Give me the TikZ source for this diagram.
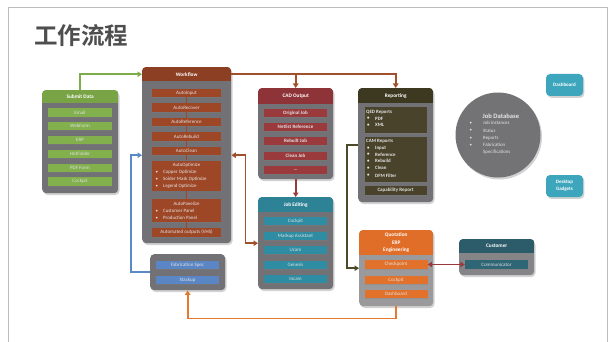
\documentclass[tikz,border=0pt]{standalone}
\usepackage{fontspec}
\setmainfont{Carlito}
\newfontfamily\cjk{Noto Sans CJK SC}[BoldFont={Noto Sans CJK SC Bold}]
\usetikzlibrary{shadows,arrows.meta}
\definecolor{frameC}{HTML}{BDBDBD}
\definecolor{titleC}{HTML}{4E4E4E}
\definecolor{bodyC}{HTML}{727276}
\definecolor{bodyQ}{HTML}{9A9A9C}
\definecolor{bodyK}{HTML}{858588}
\definecolor{greenH}{HTML}{78A445}
\definecolor{greenI}{HTML}{82B04D}
\definecolor{brownH}{HTML}{8C3F22}
\definecolor{brownI}{HTML}{9E4727}
\definecolor{redH}{HTML}{8E3337}
\definecolor{redI}{HTML}{9A3A3D}
\definecolor{oliveH}{HTML}{3C3920}
\definecolor{oliveI}{HTML}{48432A}
\definecolor{tealH}{HTML}{2D8296}
\definecolor{tealI}{HTML}{2E8DA3}
\definecolor{orangeH}{HTML}{E06E28}
\definecolor{orangeI}{HTML}{E2722B}
\definecolor{custH}{HTML}{2C5B69}
\definecolor{custI}{HTML}{2F6676}
\definecolor{blueI}{HTML}{5A86C5}
\definecolor{dbC}{HTML}{737376}
\definecolor{gadC}{HTML}{3EA6BC}
\definecolor{aGreen}{HTML}{7CAD4A}
\definecolor{aBrown}{HTML}{A1502B}
\definecolor{aRed}{HTML}{9B3A3C}
\definecolor{aOlive}{HTML}{4D4A2A}
\definecolor{aBlue}{HTML}{5B89C8}
\definecolor{aOrange}{HTML}{E5792F}
\newcommand\cbox[9]{%
  \node[box=#8, minimum width=#4pt, minimum height=#5pt, anchor=north west] (#1) at (#2,#3) {};
  \begin{scope}
    \clip[rounded corners=4pt] (#1.north west) rectangle (#1.south east);
    \fill[#7] (#1.north west) rectangle ([yshift=-#6pt]#1.north east);
  \end{scope}
  \node[hdr, minimum width=#4pt, minimum height=#6pt, anchor=north] (#1h) at (#1.north) {#9};
}
\begin{document}
\begin{tikzpicture}[x=1pt,y=-1pt,
  box/.style={rounded corners=4pt, fill=#1, draw=none, inner sep=0pt,
    drop shadow={opacity=0.35, shadow xshift=1.3pt, shadow yshift=-1.8pt}},
  item/.style={fill=#1, minimum width=63pt, minimum height=8.5pt, inner sep=0pt,
    text=white!88!black, font=\fontsize{5}{5.5}\selectfont,
    drop shadow={opacity=0.3, shadow xshift=0.4pt, shadow yshift=-0.8pt}},
  hdr/.style={inner sep=0pt, text=white, align=center,
    font=\bfseries\fontsize{5.3}{7.4}\selectfont},
  ltxt/.style={inner sep=0pt, anchor=west, text=white!90!black, font=\fontsize{4.9}{5.4}\selectfont},
  btxt/.style={inner sep=0pt, anchor=west, text=white!90!black, font=\bfseries\fontsize{4.9}{5.4}\selectfont},
  arr/.style={line width=1.8pt, draw=#1, -{Triangle[length=4.5pt,width=5.5pt]}},
  darr/.style={line width=1.8pt, draw=#1, {Triangle[length=4.5pt,width=5.5pt]}-{Triangle[length=4.5pt,width=5.5pt]}},
  link/.style={line width=1pt, draw=brownI}
]
\useasboundingbox (0,0) rectangle (612,342);
\clip (0,0) rectangle (612,342);
\fill[white] (0,0) rectangle (612,342);
\draw[frameC, line width=0.8pt] (8,7) rectangle (607,360);

\node[anchor=west, inner sep=0pt, text=titleC, font=\cjk\bfseries\fontsize{23.5}{24}\selectfont] (title) at (34,36) {工作流程};

% ---------- Submit Data
\cbox{sd}{42}{90}{76}{103}{13}{greenH}{bodyC}{Submit Data}
\node[item=greenI, minimum width=64pt] (sd1) at (80,112.5) {Email};
\node[item=greenI, minimum width=64pt] (sd2) at (80,126) {WebForm};
\node[item=greenI, minimum width=64pt] (sd3) at (80,140) {ERP};
\node[item=greenI, minimum width=64pt] (sd4) at (80,154) {HotFolder};
\node[item=greenI, minimum width=64pt] (sd5) at (80,168) {PDF Form};
\node[item=greenI, minimum width=64pt] (sd6) at (80,181.5) {Cockpit};

% ---------- Workflow
\cbox{wf}{142}{67}{89}{176}{14}{brownH}{bodyC}{Workflow}
\node[item=brownI, minimum width=69pt] (w1) at (186.5,93) {AutoInput};
\node[item=brownI, minimum width=69pt] (w2) at (186.5,107.5) {AutoRecover};
\node[item=brownI, minimum width=69pt] (w3) at (186.5,122) {AutoReference};
\node[item=brownI, minimum width=69pt] (w4) at (186.5,136.5) {AutoRebuild};
\node[item=brownI, minimum width=69pt] (w5) at (186.5,151) {AutoClean};
\node[item=brownI, minimum width=69pt, minimum height=30pt] (w6) at (186.5,175.5) {};
\node[item=brownI, minimum width=69pt, minimum height=23pt] (w7) at (186.5,210.5) {};
\node[item=brownI, minimum width=69pt] (w8) at (186.5,232.5) {Automated outputs (VHS)};
\draw[link] (w1) -- (w2); \draw[link] (w2) -- (w3); \draw[link] (w3) -- (w4);
\draw[link] (w4) -- (w5); \draw[link] (w5) -- (w6); \draw[link] (w6) -- (w7);
\draw[link] (w7) -- (w8);
\node[ltxt, anchor=center] (w6t) at (186.5,165) {AutoOptimize};
\node[ltxt] (w6b1) at (155.5,172.5) {•};
\node[ltxt] (w6a) at (163,172.5) {Copper Optimize};
\node[ltxt] (w6b2) at (155.5,179.5) {•};
\node[ltxt] (w6c) at (163,179.5) {Solder Mask Optimize};
\node[ltxt] (w6b3) at (155.5,186.5) {•};
\node[ltxt] (w6d) at (163,186.5) {Legend Optimize};
\node[ltxt, anchor=center] (w7t) at (186.5,203.5) {AutoPanelize};
\node[ltxt] (w7b1) at (155.5,211) {•};
\node[ltxt] (w7a) at (163,211) {Customer Panel};
\node[ltxt] (w7b2) at (155.5,218) {•};
\node[ltxt] (w7c) at (163,218) {Production Panel};

% ---------- CAD Output
\cbox{cad}{258}{88}{75}{91}{16}{redH}{bodyC}{CAD Output}
\node[item=redI, font=\bfseries\fontsize{5}{5.5}\selectfont] (c1) at (295.5,113) {Original Job};
\node[item=redI, font=\bfseries\fontsize{5}{5.5}\selectfont] (c2) at (295.5,127) {Netlist Reference};
\node[item=redI, font=\bfseries\fontsize{5}{5.5}\selectfont] (c3) at (295.5,141) {Rebuilt Job};
\node[item=redI, font=\bfseries\fontsize{5}{5.5}\selectfont] (c4) at (295.5,156) {Clean Job};
\node[item=redI, font=\bfseries\fontsize{5}{5.5}\selectfont] (c5) at (295.5,170) {...};

% ---------- Job Editing
\cbox{je}{258}{197}{75}{92}{15}{tealH}{bodyC}{Job Editing}
\node[item=tealI] (j1) at (295.5,221) {Cockpit};
\node[item=tealI] (j2) at (295.5,236) {Markup Assistant};
\node[item=tealI] (j3) at (295.5,250) {Ucam};
\node[item=tealI] (j4) at (295.5,265) {Genesis};
\node[item=tealI] (j5) at (295.5,279) {Incam};

% ---------- Reporting
\cbox{rep}{358}{88}{75}{114}{15}{oliveH}{bodyC}{Reporting}
\node[item=oliveI, minimum width=62pt, minimum height=26pt] (r1) at (395.5,120) {};
\node[item=oliveI, minimum width=62pt, minimum height=45pt] (r2) at (395.5,159.5) {};
\node[item=oliveI, minimum width=62pt, font=\bfseries\fontsize{5}{5.5}\selectfont] (r3) at (395.5,190.5) {Capability Report};
\node[btxt] (q0) at (366,112) {QED Reports};
\node[btxt] (qb1) at (367,118.5) {•};
\node[btxt] (q1) at (375,118.5) {PDF};
\node[btxt] (qb2) at (367,125) {•};
\node[btxt] (q2) at (375,125) {XML};
\node[btxt] (m0) at (366,141) {CAM Reports};
\node[btxt] (mb1) at (367,148) {•};
\node[btxt] (m1) at (375,148) {Input};
\node[btxt] (mb2) at (367,154.5) {•};
\node[btxt] (m2) at (375,154.5) {Reference};
\node[btxt] (mb3) at (367,161) {•};
\node[btxt] (m3) at (375,161) {Rebuild};
\node[btxt] (mb4) at (367,168) {•};
\node[btxt] (m4) at (375,168) {Clean};
\node[btxt] (mb5) at (367,175.5) {•};
\node[btxt] (m5) at (375,175.5) {DFM Filter};

% ---------- Quotation
\cbox{quo}{359}{230}{74}{76}{25}{orangeH}{bodyQ}{Quotation\\ERP\\Engineering}
\node[item=orangeI] (o1) at (396,264.5) {Checkpoint};
\node[item=orangeI] (o2) at (396,280) {Cockpit};
\node[item=orangeI] (o3) at (396,294) {Dashboard};

% ---------- Customer
\cbox{cus}{459}{239}{75}{36}{14}{custH}{bodyK}{Customer}
\node[item=custI] (k1) at (496.5,264.5) {Communicator};

% ---------- Fabrication
\cbox{fab}{150}{254}{75}{36}{0}{bodyC}{bodyC}{}
\node[item=blueI] (f1) at (187.5,265) {Fabrication Spec};
\node[item=blueI] (f2) at (187.5,280) {Stackup};

% ---------- Job Database
\node[circle, minimum size=85pt, inner sep=0pt, fill=dbC,
  drop shadow={opacity=0.35, shadow xshift=1.5pt, shadow yshift=-2pt}] (db) at (498,135) {};
\node[ltxt, font=\bfseries\fontsize{6.6}{7}\selectfont] (db0) at (482.5,116) {Job Database};
\node[ltxt] (dbb1) at (469.5,123) {•};
\node[ltxt] (db1) at (483,123) {Job instances};
\node[ltxt] (dbb2) at (469.5,130.5) {•};
\node[ltxt] (db2) at (483,130.5) {Status};
\node[ltxt] (dbb3) at (469.5,138) {•};
\node[ltxt] (db3) at (483,138) {Reports};
\node[ltxt] (dbb4) at (469.5,145) {•};
\node[ltxt] (db4) at (483,145) {Fabrication};
\node[ltxt] (db5) at (483,152) {Specifications};

% ---------- Dashboard / Desktop Gadgets
\node[box=gadC, minimum width=37pt, minimum height=22pt, text=white, align=center,
  font=\bfseries\fontsize{5}{6.8}\selectfont] (dash) at (564.5,85) {Dashboard};
\node[box=gadC, minimum width=37pt, minimum height=22pt, text=white, align=center,
  font=\bfseries\fontsize{5}{6.8}\selectfont] (gad) at (564.5,186) {Desktop\\Gadgets};

% ---------- Connectors
\draw[arr=aGreen] (sd.north) |- (wfh.west);
\draw[arr=aBrown] (wfh.east) -| (cad.north);
\draw[arr=aBrown] (wfh.east) -| (rep.north);
\draw[arr=aRed] (cad.south) -- (je.north);
\draw[darr=aBrown] (wf.east) -- ++(14,0) |- (je.west);
\draw[arr=aOlive] (rep.west) -- ++(-11,0) |- (quo.west);
\draw[darr=aRed] (o1.east) -- (k1.west);
\draw[arr=aOrange] (quo.south) -- ++(0,12) -| (fab.south);
\draw[arr=aBlue] (fab.west) -- ++(-19,0) |- (wf.west);
\end{tikzpicture}
\end{document}
